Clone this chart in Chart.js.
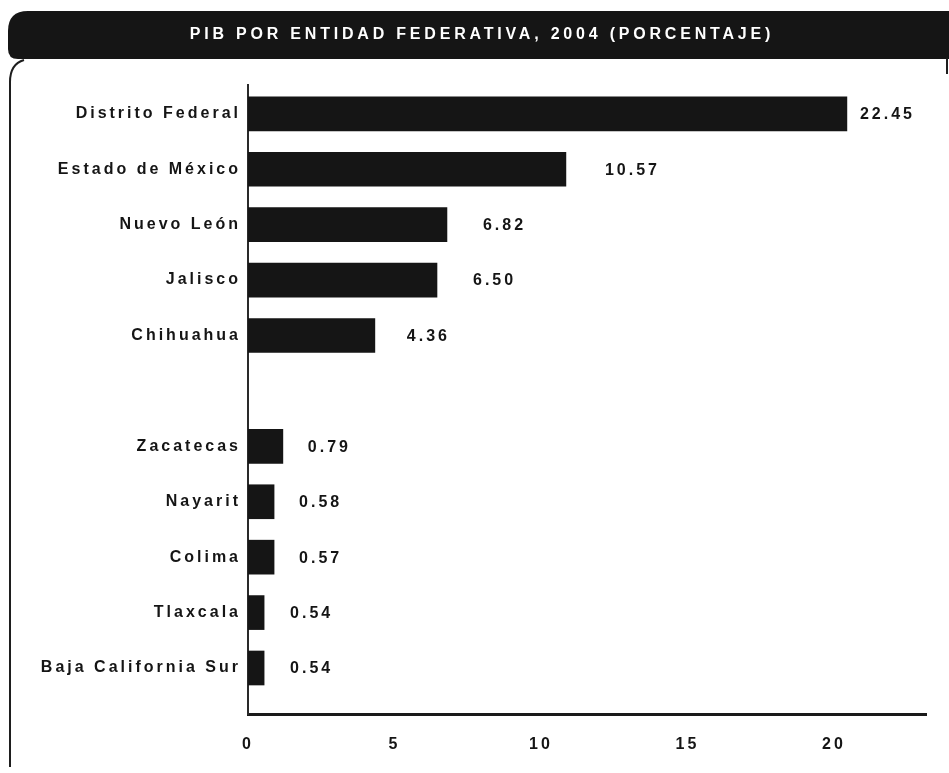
<!DOCTYPE html>
<html>
<head>
<meta charset="utf-8">
<script src="https://cdn.jsdelivr.net/npm/chart.js@4/dist/chart.umd.min.js"></script>
<style>
  html, body { margin: 0; padding: 0; background: #ffffff; }
  #wrap { width: 949px; height: 773px; }
</style>
</head>
<body>
<div id="wrap"><canvas id="c" width="949" height="773"></canvas></div>
<script>
// ---- data ----
const chartTitle = 'PIB POR ENTIDAD FEDERATIVA, 2004 (PORCENTAJE)';
const categories = ['Distrito Federal', 'Estado de México', 'Nuevo León', 'Jalisco', 'Chihuahua', '',
                    'Zacatecas', 'Nayarit', 'Colima', 'Tlaxcala', 'Baja California Sur'];
// bar lengths as drawn against the axis
const barLengths = [20.44, 10.85, 6.79, 6.45, 4.33, null, 1.19, 0.89, 0.89, 0.55, 0.55];
// values printed next to the bars
const valueLabels = ['22.45', '10.57', '6.82', '6.50', '4.36', '', '0.79', '0.58', '0.57', '0.54', '0.54'];
const xTicks = [0, 5, 10, 15, 20];

const FONT = '"Liberation Sans", Arial, Helvetica, sans-serif';
const INK = '#151515';
const Y_MIN = -0.52, Y_MAX = 10.83;
const X_MIN = 0, X_MAX = 23.14;

const points = categories
  .map((c, i) => ({ x: barLengths[i], y: i }))
  .filter(p => p.x !== null);

const framePlugin = {
  id: 'frame',
  beforeDraw(chart) {
    const ctx = chart.ctx;
    ctx.save();
    ctx.fillStyle = '#ffffff';
    ctx.fillRect(0, 0, chart.width, chart.height);
    // title bar
    ctx.fillStyle = INK;
    ctx.beginPath();
    ctx.moveTo(28, 11);
    ctx.lineTo(949, 11);
    ctx.lineTo(949, 59);
    ctx.lineTo(18, 59);
    ctx.quadraticCurveTo(8, 59, 8, 49);
    ctx.lineTo(8, 31);
    ctx.quadraticCurveTo(8, 11, 28, 11);
    ctx.closePath();
    ctx.fill();
    // title text
    ctx.fillStyle = '#ffffff';
    ctx.font = 'bold 16px ' + FONT;
    ctx.letterSpacing = '3.8px';
    ctx.textAlign = 'center';
    ctx.textBaseline = 'middle';
    ctx.fillText(chartTitle, 481.9, 35);
    // left frame line
    ctx.letterSpacing = '0px';
    ctx.strokeStyle = '#1e1e1e';
    ctx.lineWidth = 2;
    ctx.beginPath();
    ctx.moveTo(24, 60);
    ctx.quadraticCurveTo(10, 64, 10, 82);
    ctx.lineTo(10, 767);
    ctx.stroke();
    ctx.beginPath();
    ctx.moveTo(947, 58);
    ctx.lineTo(947, 74);
    ctx.stroke();
    ctx.restore();
    ctx.letterSpacing = '3px';
  }
};

const valueLabelPlugin = {
  id: 'valueLabels',
  afterDatasetsDraw(chart, args, opts) {
    const ctx = chart.ctx;
    const meta = chart.getDatasetMeta(0);
    ctx.save();
    ctx.font = 'bold 16px ' + FONT;
    ctx.letterSpacing = '3px';
    ctx.fillStyle = INK;
    ctx.textAlign = 'left';
    ctx.textBaseline = 'middle';
    meta.data.forEach((bar, k) => {
      const idx = points[k].y;
      const gap = opts.gaps[idx];
      ctx.fillText(valueLabels[idx], bar.x + gap, bar.y + 1);
    });
    ctx.restore();
  }
};

new Chart(document.getElementById('c'), {
  type: 'bar',
  data: {
    datasets: [{
      data: points,
      backgroundColor: INK,
      borderWidth: 0,
      barThickness: 34
    }]
  },
  options: {
    indexAxis: 'y',
    responsive: false,
    animation: false,
    events: [],
    layout: { padding: { top: 85, right: 23, bottom: 0, left: 0 } },
    plugins: {
      legend: { display: false },
      tooltip: { enabled: false },
      title: { display: false },
      valueLabels: { gaps: [13, 39, 36, 36, 32, 0, 25, 25, 25, 26, 26] }
    },
    scales: {
      x: {
        type: 'linear',
        position: 'bottom',
        bounds: 'data',
        offset: false,
        min: X_MIN,
        max: X_MAX,
        grid: { display: false, drawTicks: false },
        border: { display: true, color: '#1a1a1a', width: 3 },
        ticks: {
          color: INK,
          font: { family: FONT, size: 16, weight: 'bold' },
          padding: 21,
          autoSkip: false,
          maxRotation: 0
        },
        afterBuildTicks: s => {
          s.ticks = xTicks.map(v => ({ value: v }));
          s.min = X_MIN; s.max = X_MAX;
        },
        afterFit: s => { s.height = 59; }
      },
      y: {
        type: 'linear',
        reverse: true,
        bounds: 'data',
        offset: false,
        min: Y_MIN,
        max: Y_MAX,
        grid: { display: false, drawTicks: false, offset: false },
        border: { display: true, color: '#2a2a2a', width: 2 },
        ticks: {
          color: INK,
          font: { family: FONT, size: 16, weight: 'bold' },
          padding: 7,
          autoSkip: false,
          callback: v => (categories[v] !== undefined ? categories[v] : '')
        },
        afterBuildTicks: s => {
          s.ticks = categories.map((c, i) => ({ value: i }));
          s.min = Y_MIN; s.max = Y_MAX;
        },
        afterFit: s => { s.width = 248; }
      }
    }
  },
  plugins: [framePlugin, valueLabelPlugin]
});
</script>
</body>
</html>
